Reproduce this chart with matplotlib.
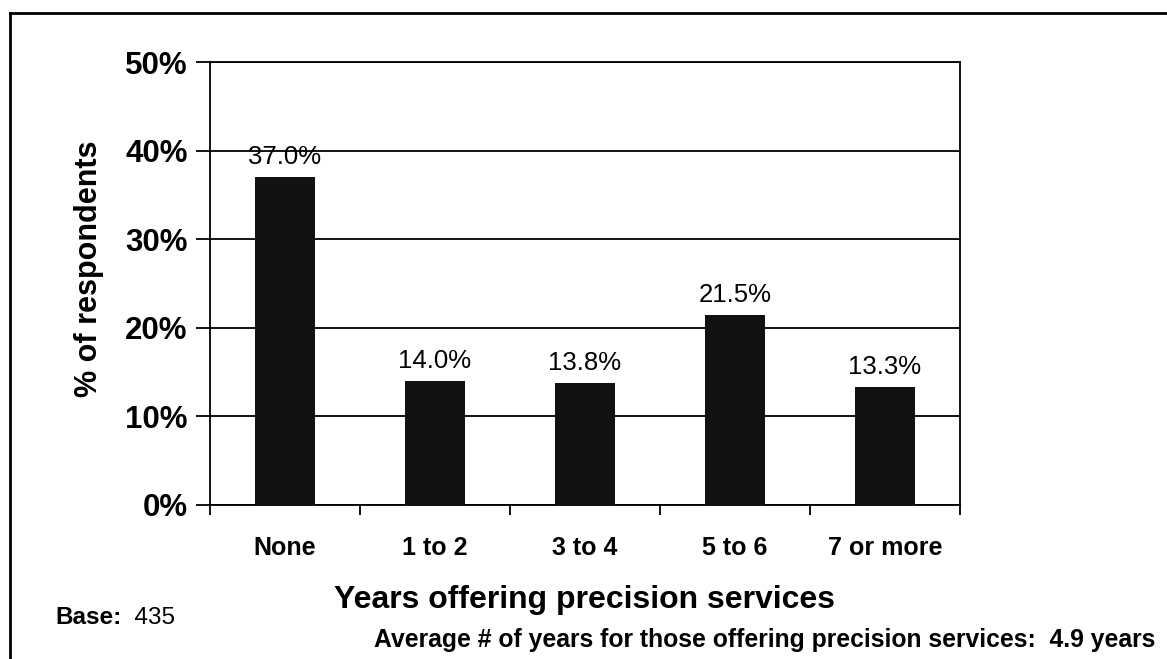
import numpy as np
import matplotlib
matplotlib.use("Agg")
import matplotlib.pyplot as plt
from matplotlib.lines import Line2D

# Data
categories = ["None", "1 to 2", "3 to 4", "5 to 6", "7 or more"]
values = [37.0, 14.0, 13.8, 21.5, 13.3]
y_ticks = [0, 10, 20, 30, 40, 50]

plt.rcParams['font.family'] = ['Liberation Sans', 'DejaVu Sans']

fig = plt.figure(figsize=(11.67, 6.59), dpi=100)
ax = fig.add_axes([210 / 1167, 1 - 505 / 659, 750 / 1167, 443 / 659])

x = np.arange(len(categories))
ax.bar(x, values, width=0.4, color="#111111", zorder=3)

# value labels above bars
for xi, v in zip(x, values):
    ax.text(xi, v + 0.9, f"{v:.1f}%", ha="center", va="bottom", fontsize=18.5, zorder=4)

ax.set_xlim(-0.5, len(categories) - 0.5)
ax.set_ylim(0, 50)
ax.set_yticks(y_ticks)
ax.set_yticklabels([f"{t}%" for t in y_ticks], fontsize=22.5, fontweight="bold")
ax.yaxis.grid(True, color="black", linewidth=1.3, zorder=1)

ax.set_xticks(x)
ax.set_xticklabels(categories, fontsize=18, fontweight="bold")
ax.set_xticks(np.arange(-0.5, len(categories)), minor=True)
ax.tick_params(axis="x", which="major", length=0, pad=22)
ax.tick_params(axis="x", which="minor", length=7, width=1.3, direction="out")
ax.tick_params(axis="y", length=10, width=1.3, direction="out", pad=6)

for s in ["left", "right", "top", "bottom"]:
    ax.spines[s].set_linewidth(1.3)
    ax.spines[s].set_color("black")

ax.set_xlabel("Years offering precision services", fontsize=23, fontweight="bold", labelpad=18)
ax.set_ylabel("% of respondents", fontsize=22, fontweight="bold")
ax.yaxis.set_label_coords(-0.141, 0.533)

# footnotes
base = fig.text(55 / 1167, 1 - 618 / 659, "Base:", fontsize=17.5, fontweight="bold", va="center")
ax.annotate("  435", xy=(1, 0.5), xycoords=base, va="center", fontsize=17.5)
fig.text(1155 / 1167, 1 - 640 / 659,
         "Average # of years for those offering precision services:  4.9 years",
         fontsize=17.8, fontweight="bold", ha="right", va="center")

# outer frame (cut off at right and bottom)
fig.add_artist(Line2D([10 / 1167, 10 / 1167], [0, 1 - 13 / 659], color="black", linewidth=2, transform=fig.transFigure))
fig.add_artist(Line2D([10 / 1167, 1], [1 - 13 / 659, 1 - 13 / 659], color="black", linewidth=2, transform=fig.transFigure))

fig.savefig("out.png", dpi=100)
